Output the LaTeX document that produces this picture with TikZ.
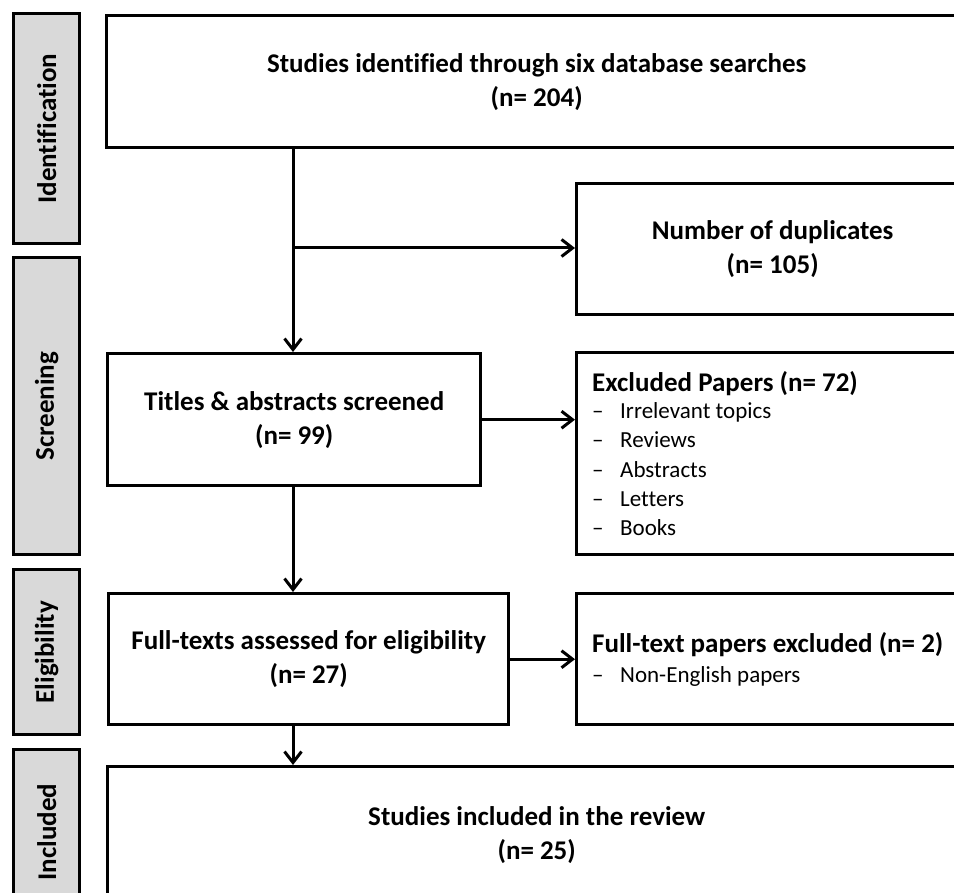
\documentclass[tikz,border=0pt]{standalone}
\usepackage{fontspec}
\setmainfont{Carlito}[Ligatures={NoCommon}]
\usetikzlibrary{arrows.meta}
\definecolor{bargray}{HTML}{D9D9D9}
\begin{document}
\begin{tikzpicture}[x=1pt,y=-1pt,
  box/.style={draw=black, line width=3.4pt, fill=white, inner sep=0pt, anchor=north west, align=center, font=\bfseries\fontsize{27}{34}\selectfont},
  bar/.style={draw=black, line width=3.4pt, fill=bargray, inner sep=0pt, anchor=north west, minimum width=66pt},
  lbl/.style={rotate=90, inner sep=0pt, font=\bfseries\fontsize{27}{32}\selectfont},
  hd/.style={anchor=base west, inner sep=0pt, font=\bfseries\fontsize{27}{32}\selectfont},
  item/.style={anchor=base west, inner sep=0pt, font=\fontsize{23}{28}\selectfont},
  arr/.style={line width=3pt, -{Straight Barb[length=11pt,width=17pt,line width=3pt]}},
]
\useasboundingbox (0,0) rectangle (954,893);
\clip (0,0) rectangle (954,893);
\fill[white] (0,0) rectangle (954,893);

% phase bars
\node[bar, minimum height=230pt] (bid) at (12,12) {};
\node[lbl] (lid) at (bid.center) {Identification};
\node[bar, minimum height=297pt] (bsc) at (12,256) {};
\node[lbl] (lsc) at (bsc.center) {Screening};
\node[bar, minimum height=165pt] (bel) at (12,568) {};
\node[lbl] (lel) at (bel.center) {Eligibility};
\node[bar, minimum height=157pt] (bin) at (12,748) {};
\node[lbl] (lin) at ([yshift=-4pt]bin.center) {Included};

% boxes
\node[box, minimum width=860pt, minimum height=132pt] (top) at (105,14) {Studies identified through six database searches\\(n= 204)};
\node[box, minimum width=392pt, minimum height=131pt] (dup) at (575,182) {Number of duplicates\\(n= 105)};
\node[box, minimum width=373pt, minimum height=132pt] (tit) at (106,352) {Titles \& abstracts screened\\(n= 99)};
\node[box, minimum width=392pt, minimum height=202pt] (exc) at (575,351) {};
\node[box, minimum width=400pt, minimum height=131pt] (ful) at (107,592) {Full-texts assessed for eligibility\\(n= 27)};
\node[box, minimum width=392pt, minimum height=131pt] (ftx) at (575,592) {};
\node[box, minimum width=858pt, minimum height=136pt] (inc) at (106,765) {Studies included in the review\\(n= 25)};

% list texts
\node[hd] (exh) at (592,392) {Excluded Papers (n= 72)};
\node[item] (ex1) at (592,419) {\makebox[28pt][l]{–}Irrelevant topics};
\node[item] (ex2) at (592,448) {\makebox[28pt][l]{–}Reviews};
\node[item] (ex3) at (592,477) {\makebox[28pt][l]{–}Abstracts};
\node[item] (ex4) at (592,506) {\makebox[28pt][l]{–}Letters};
\node[item] (ex5) at (592,535) {\makebox[28pt][l]{–}Books};
\node[hd] (fth) at (592,652) {Full-text papers excluded (n= 2)};
\node[item] (ft1) at (592,682) {\makebox[28pt][l]{–}Non-English papers};

% connectors
\coordinate (br) at (293,248);
\draw[arr] (br |- top.south) -- (br |- tit.north);
\draw[arr] (br) -- (br -| dup.west);
\draw[arr] (tit.east) -- (tit.east -| exc.west);
\draw[arr] (br |- tit.south) -- (br |- ful.north);
\draw[arr] (ful.east) -- (ful.east -| ftx.west);
\draw[arr] (br |- ful.south) -- (br |- inc.north);
\end{tikzpicture}
\end{document}
